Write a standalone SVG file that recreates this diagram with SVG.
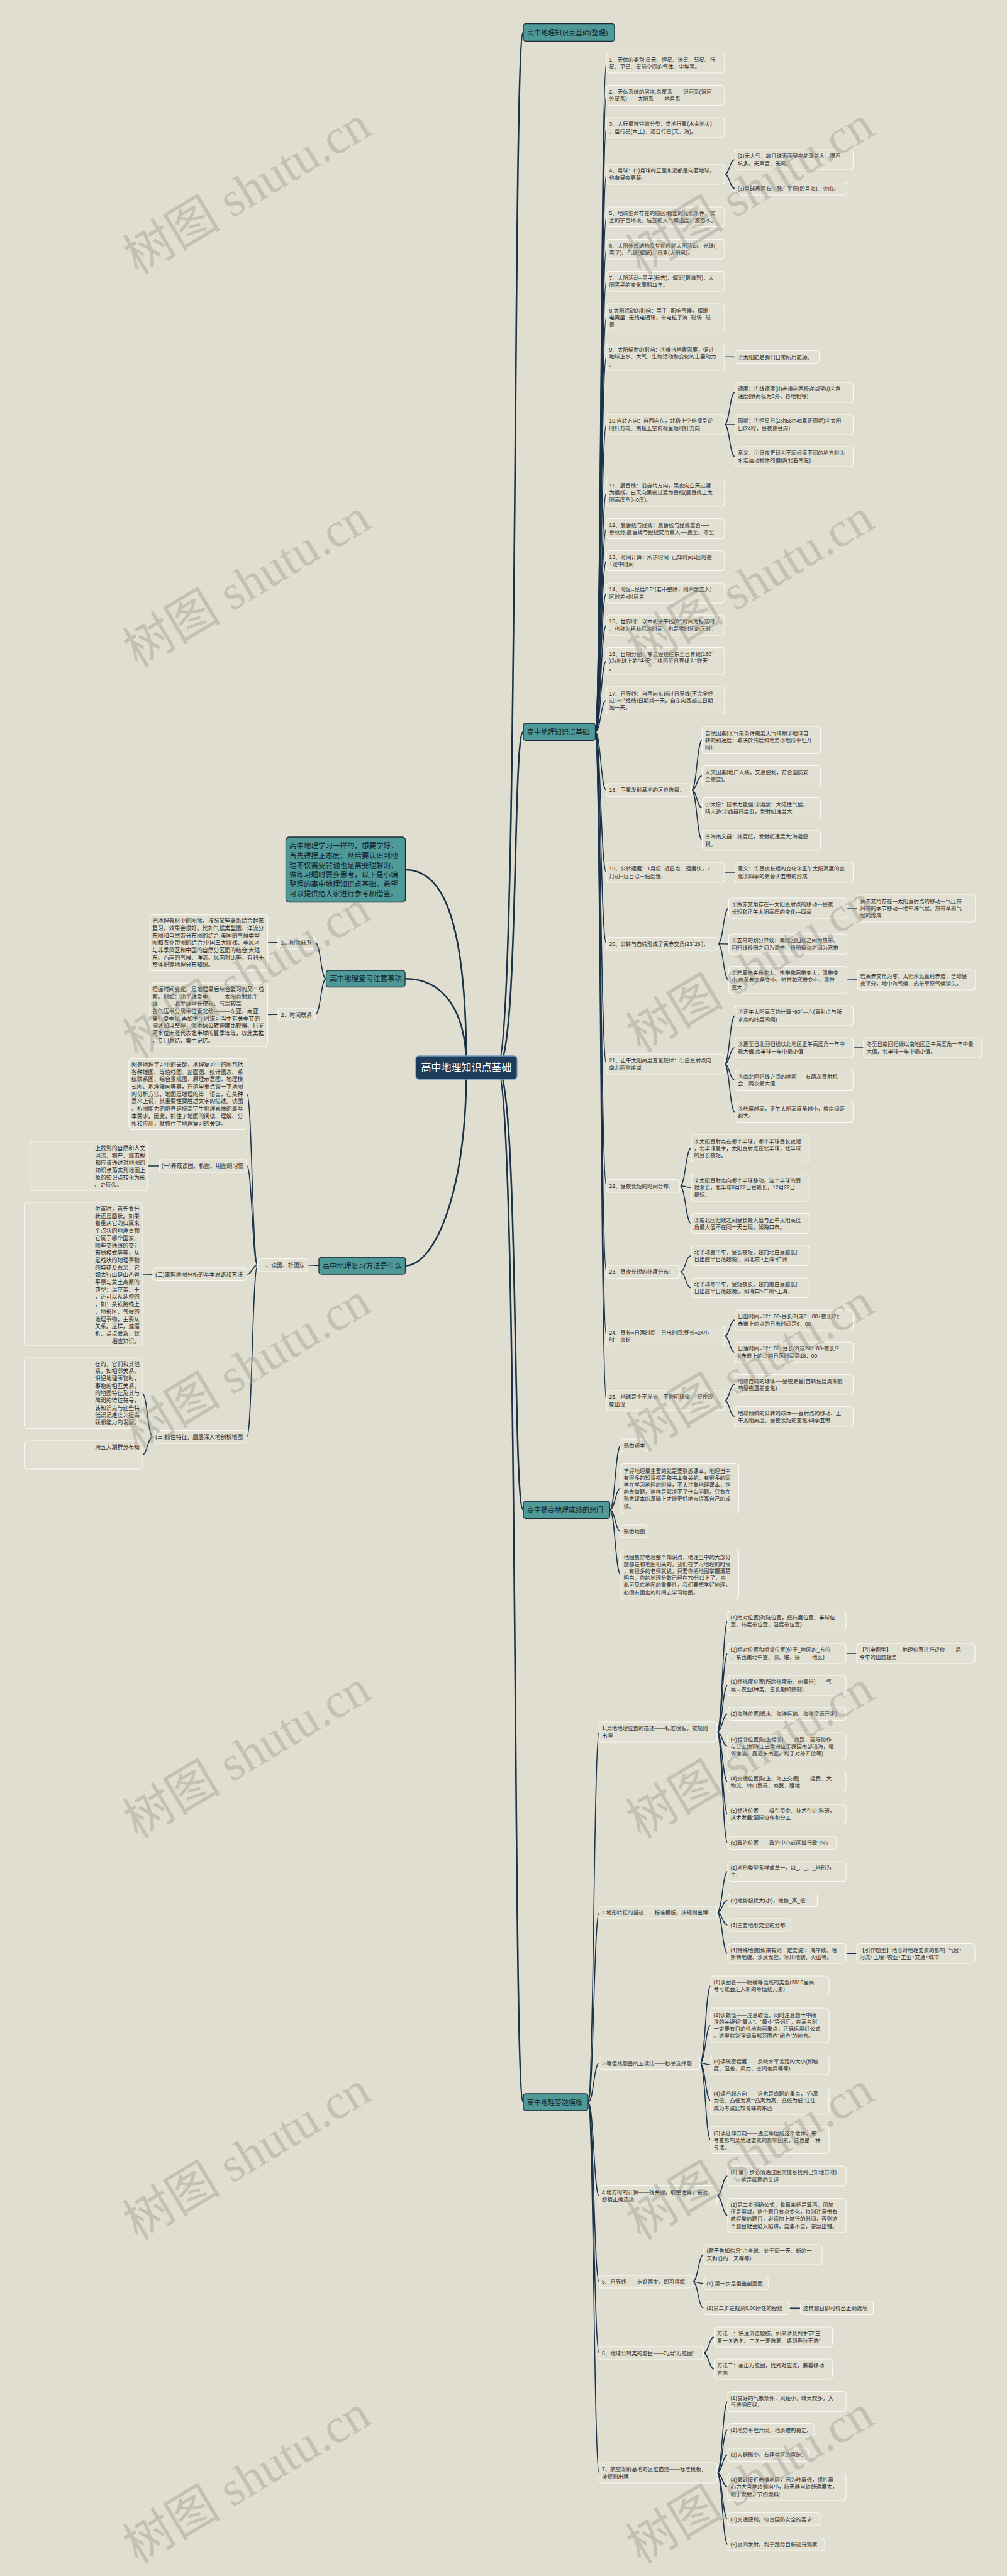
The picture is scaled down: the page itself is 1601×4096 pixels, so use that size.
<svg xmlns="http://www.w3.org/2000/svg" width="1601" height="4096" viewBox="0 0 1601 4096">
<style>
.n rect{fill:#e1e0d3;stroke:#f9f9f4;stroke-width:1.2}
.n text{font-family:"Liberation Sans","Noto Sans CJK SC",sans-serif;font-size:8.5px;fill:#2a2a2a}
.l text{font-size:8.9px}
.b rect{fill:#4f9a99;stroke:#1d2b36;stroke-width:1.3}
.b text{font-size:11px;fill:#14212b}
.bl text{font-size:11.5px}
.root rect{fill:#1d3c5a;stroke:#6c9cc0;stroke-width:1.3}
.root text{fill:#ffffff;font-size:16px}
.c path{fill:none;stroke:#1b324a;stroke-width:1.5}
.c path.t{stroke-width:2.6}
.wm{font-family:"Liberation Serif","Noto Sans CJK SC",serif;font-size:78px;fill:#9a9a8e;opacity:.42}
</style>
<rect x="0" y="0" width="1601" height="4096" fill="#dfded0"/>
<g id="connectors" class="c">
<path class="t" d="M790 1697.5C826 1697.5 814 51.5 832 51.5"/>
<path class="t" d="M790 1697.5C826 1697.5 814 1163.75 832 1163.75"/>
<path class="t" d="M790 1697.5C826 1697.5 814 2400.75 832 2400.75"/>
<path class="t" d="M790 1697.5C826 1697.5 814 3342.5 832 3342.5"/>
<path class="t" d="M644.6 1383C700 1383 741.5 1450 741.5 1697.5"/>
<path class="t" d="M644 1556.25C700 1556.25 741.5 1600 741.5 1697.5"/>
<path class="t" d="M644.5 2012.5C690 2012.5 741.5 1900 741.5 1697.5"/>
<path d="M946.5 1163.75C955 1163.75 955 100.25 964 100.25"/>
<path d="M946.5 1163.75C955 1163.75 955 151.5 964 151.5"/>
<path d="M946.5 1163.75C955 1163.75 955 203 964 203"/>
<path d="M946.5 1163.75C955 1163.75 955 277 964 277"/>
<path d="M946.5 1163.75C955 1163.75 955 344.75 964 344.75"/>
<path d="M946.5 1163.75C955 1163.75 955 396.25 964 396.25"/>
<path d="M946.5 1163.75C955 1163.75 955 447.25 964 447.25"/>
<path d="M946.5 1163.75C955 1163.75 955 504.75 964 504.75"/>
<path d="M946.5 1163.75C955 1163.75 955 567.25 964 567.25"/>
<path d="M946.5 1163.75C955 1163.75 955 675 964 675"/>
<path d="M946.5 1163.75C955 1163.75 955 783.25 964 783.25"/>
<path d="M946.5 1163.75C955 1163.75 955 840.5 964 840.5"/>
<path d="M946.5 1163.75C955 1163.75 955 891.5 964 891.5"/>
<path d="M946.5 1163.75C955 1163.75 955 943 964 943"/>
<path d="M946.5 1163.75C955 1163.75 955 994 964 994"/>
<path d="M946.5 1163.75C955 1163.75 955 1051.25 964 1051.25"/>
<path d="M946.5 1163.75C955 1163.75 955 1113.75 964 1113.75"/>
<path d="M946.5 1163.75C955 1163.75 955 1256.25 964 1256.25"/>
<path d="M946.5 1163.75C955 1163.75 955 1387 964 1387"/>
<path d="M946.5 1163.75C955 1163.75 955 1500.75 964 1500.75"/>
<path d="M946.5 1163.75C955 1163.75 955 1692 964 1692"/>
<path d="M946.5 1163.75C955 1163.75 955 1885.75 964 1885.75"/>
<path d="M946.5 1163.75C955 1163.75 955 2022.25 964 2022.25"/>
<path d="M946.5 1163.75C955 1163.75 955 2124.5 964 2124.5"/>
<path d="M946.5 1163.75C955 1163.75 955 2227 964 2227"/>
<path d="M1152 277C1160 277 1160 254 1168.5 254"/>
<path d="M1152 277C1160 277 1160 299.75 1168.5 299.75"/>
<path d="M1152 567.25C1160 567.25 1160 567.5 1168.5 567.5"/>
<path d="M1152 675C1160 675 1160 624 1168.5 624"/>
<path d="M1152 675C1160 675 1160 675 1168.5 675"/>
<path d="M1152 675C1160 675 1160 726 1168.5 726"/>
<path d="M1099.5 1256.25C1108 1256.25 1108 1176.75 1116.5 1176.75"/>
<path d="M1099.5 1256.25C1108 1256.25 1108 1233.5 1116.5 1233.5"/>
<path d="M1099.5 1256.25C1108 1256.25 1108 1284.5 1116.5 1284.5"/>
<path d="M1099.5 1256.25C1108 1256.25 1108 1336 1116.5 1336"/>
<path d="M1152 1387C1160 1387 1160 1387 1168.5 1387"/>
<path d="M1141.5 1500.75C1150 1500.75 1150 1444 1158.5 1444"/>
<path d="M1141.5 1500.75C1150 1500.75 1150 1501 1158.5 1501"/>
<path d="M1141.5 1500.75C1150 1500.75 1150 1558.25 1158.5 1558.25"/>
<path d="M1346.5 1444C1355 1444 1355 1444 1363 1444"/>
<path d="M1346.5 1558.25C1355 1558.25 1355 1558 1363 1558"/>
<path d="M1152 1692C1160 1692 1160 1615 1168.5 1615"/>
<path d="M1152 1692C1160 1692 1160 1666 1168.5 1666"/>
<path d="M1152 1692C1160 1692 1160 1717.5 1168.5 1717.5"/>
<path d="M1152 1692C1160 1692 1160 1768.5 1168.5 1768.5"/>
<path d="M1356.5 1666C1365 1666 1365 1666 1373 1666"/>
<path d="M1081 1885.75C1090 1885.75 1090 1825.75 1099 1825.75"/>
<path d="M1081 1885.75C1090 1885.75 1090 1888.25 1099 1888.25"/>
<path d="M1081 1885.75C1090 1885.75 1090 1945.5 1099 1945.5"/>
<path d="M1081 2022.25C1090 2022.25 1090 1996.75 1099 1996.75"/>
<path d="M1081 2022.25C1090 2022.25 1090 2047.75 1099 2047.75"/>
<path d="M1152 2124.5C1160 2124.5 1160 2099 1168.5 2099"/>
<path d="M1152 2124.5C1160 2124.5 1160 2150 1168.5 2150"/>
<path d="M1152 2227C1160 2227 1160 2201.25 1168.5 2201.25"/>
<path d="M1152 2227C1160 2227 1160 2252.25 1168.5 2252.25"/>
<path d="M969.5 2400.75C978 2400.75 978 2298.25 987 2298.25"/>
<path d="M969.5 2400.75C978 2400.75 978 2366.5 987 2366.5"/>
<path d="M969.5 2400.75C978 2400.75 978 2435 987 2435"/>
<path d="M969.5 2400.75C978 2400.75 978 2503.5 987 2503.5"/>
<path d="M935 3342.5C944 3342.5 944 2754 952.5 2754"/>
<path d="M935 3342.5C944 3342.5 944 3041 952.5 3041"/>
<path d="M935 3342.5C944 3342.5 944 3280.5 952.5 3280.5"/>
<path d="M935 3342.5C944 3342.5 944 3491.5 952.5 3491.5"/>
<path d="M935 3342.5C944 3342.5 944 3628 952.5 3628"/>
<path d="M935 3342.5C944 3342.5 944 3741.5 952.5 3741.5"/>
<path d="M935 3342.5C944 3342.5 944 3932 952.5 3932"/>
<path d="M1140 2754C1148.5 2754 1148.5 2577.5 1157 2577.5"/>
<path d="M1140 2754C1148.5 2754 1148.5 2629 1157 2629"/>
<path d="M1140 2754C1148.5 2754 1148.5 2680 1157 2680"/>
<path d="M1140 2754C1148.5 2754 1148.5 2725.25 1157 2725.25"/>
<path d="M1140 2754C1148.5 2754 1148.5 2776.75 1157 2776.75"/>
<path d="M1140 2754C1148.5 2754 1148.5 2833.5 1157 2833.5"/>
<path d="M1140 2754C1148.5 2754 1148.5 2884.75 1157 2884.75"/>
<path d="M1140 2754C1148.5 2754 1148.5 2930.25 1157 2930.25"/>
<path d="M1345 2629C1353.5 2629 1353.5 2629 1362 2629"/>
<path d="M1140 3041C1148.5 3041 1148.5 2975.75 1157 2975.75"/>
<path d="M1140 3041C1148.5 3041 1148.5 3021.5 1157 3021.5"/>
<path d="M1140 3041C1148.5 3041 1148.5 3061 1157 3061"/>
<path d="M1140 3041C1148.5 3041 1148.5 3106.25 1157 3106.25"/>
<path d="M1345 3106.25C1353.5 3106.25 1353.5 3106.25 1362 3106.25"/>
<path d="M1113 3280.5C1121.5 3280.5 1121.5 3157.75 1130 3157.75"/>
<path d="M1113 3280.5C1121.5 3280.5 1121.5 3220.5 1130 3220.5"/>
<path d="M1113 3280.5C1121.5 3280.5 1121.5 3283.25 1130 3283.25"/>
<path d="M1113 3280.5C1121.5 3280.5 1121.5 3340.25 1130 3340.25"/>
<path d="M1113 3280.5C1121.5 3280.5 1121.5 3402.75 1130 3402.75"/>
<path d="M1140 3491.5C1148.5 3491.5 1148.5 3460 1157 3460"/>
<path d="M1140 3491.5C1148.5 3491.5 1148.5 3522.75 1157 3522.75"/>
<path d="M1101.5 3628C1110 3628 1110 3585 1119 3585"/>
<path d="M1101.5 3628C1110 3628 1110 3630.75 1119 3630.75"/>
<path d="M1101.5 3628C1110 3628 1110 3670.25 1119 3670.25"/>
<path d="M1255 3670.25C1264 3670.25 1264 3670.25 1272.5 3670.25"/>
<path d="M1118.5 3741.5C1127 3741.5 1127 3716 1135.5 3716"/>
<path d="M1118.5 3741.5C1127 3741.5 1127 3767 1135.5 3767"/>
<path d="M1140 3932C1148.5 3932 1148.5 3818.5 1157 3818.5"/>
<path d="M1140 3932C1148.5 3932 1148.5 3863.75 1157 3863.75"/>
<path d="M1140 3932C1148.5 3932 1148.5 3903.25 1157 3903.25"/>
<path d="M1140 3932C1148.5 3932 1148.5 3954.25 1157 3954.25"/>
<path d="M1140 3932C1148.5 3932 1148.5 4005.75 1157 4005.75"/>
<path d="M1140 3932C1148.5 3932 1148.5 4045.75 1157 4045.75"/>
<path d="M518.5 1556.25C510 1556.25 510 1498.75 501 1498.75"/>
<path d="M518.5 1556.25C510 1556.25 510 1613.25 501 1613.25"/>
<path d="M442 1498.75C434 1498.75 434 1499 425.5 1499"/>
<path d="M442 1613.25C434 1613.25 434 1613.5 425.5 1613.5"/>
<path d="M507 2012.5C498 2012.5 498 2011.75 489.5 2011.75"/>
<path d="M409.5 2011.75C401 2011.75 401 1739.5 392.5 1739.5"/>
<path d="M409.5 2011.75C401 2011.75 401 1854 392.5 1854"/>
<path d="M409.5 2011.75C401 2011.75 401 2026.25 392.5 2026.25"/>
<path d="M409.5 2011.75C401 2011.75 401 2284.75 392.5 2284.75"/>
<path d="M253 1854C244 1854 244 1854 235 1854"/>
<path d="M243 2026.25C234.5 2026.25 234.5 2026 226 2026"/>
<path d="M243 2284.75C234.5 2284.75 234.5 2215.25 226 2215.25"/>
<path d="M243 2284.75C234.5 2284.75 234.5 2313.5 226 2313.5"/>
</g>
<g id="root" class="n root"><rect x="661" y="1679" width="161" height="37" rx="5"/><text x="741.5" y="1703.3" text-anchor="middle">高中地理知识点基础</text></g>
<g id="b1" class="n b"><rect x="832" y="37.5" width="145" height="28" rx="4"/><text x="838" y="55.6">高中地理知识点基础(整理)</text></g>
<g id="b2" class="n b"><rect x="832" y="1150" width="114.5" height="27.5" rx="4"/><text x="838" y="1167.9">高中地理知识点基础</text></g>
<g id="b3" class="n b"><rect x="832" y="2387" width="137.5" height="27.5" rx="4"/><text x="838" y="2404.9">高中提高地理成绩的窍门</text></g>
<g id="b4" class="n b"><rect x="832" y="3329" width="103" height="27" rx="4"/><text x="838" y="3346.6">高中地理答题模板</text></g>
<g id="bl1" class="n b bl"><rect x="454.5" y="1331" width="190" height="103.5" rx="5"/><text x="460" y="1349.3">高中地理学习一样的，想要学好，<tspan x="460" y="1364.5">首先得摆正态度，然后要认识到地</tspan><tspan x="460" y="1379.7">理不仅需要背诵也是需要理解的，</tspan><tspan x="460" y="1394.9">做练习题时要多思考，以下是小编</tspan><tspan x="460" y="1410.1">整理的高中地理知识点基础，希望</tspan><tspan x="460" y="1425.3">可以提供给大家进行参考和借鉴。</tspan></text></g>
<g id="bl2" class="n b bl"><rect x="518.5" y="1543" width="125.5" height="26.5" rx="4"/><text x="524" y="1560.4">高中地理复习注意事项</text></g>
<g id="bl3" class="n b bl"><rect x="507" y="1999" width="137.5" height="27" rx="4"/><text x="512.5" y="2016.6">高中地理复习方法是什么</text></g>
<g id="n1" class="n"><rect x="964" y="84.5" width="188" height="31.5" rx="5"/><text x="968.5" y="97.7">1、天体的类别:星云、恒星、流星、彗星、行<tspan x="968.5" y="108.9">星、卫星、星际空间的气体、尘埃等。</tspan></text></g>
<g id="n2" class="n"><rect x="964" y="135.5" width="188" height="32" rx="5"/><text x="968.5" y="148.9">2、天体系统的层次:总星系——银河系(银河<tspan x="968.5" y="160.1">外星系)——太阳系——地月系</tspan></text></g>
<g id="n3" class="n"><rect x="964" y="187" width="188" height="32" rx="5"/><text x="968.5" y="200.4">3、大行星按特徵分类：类地行星(水金地火)<tspan x="968.5" y="211.6">、巨行星(木土)、远日行星(天、海)。</tspan></text></g>
<g id="n4" class="n"><rect x="964" y="261" width="188" height="32" rx="5"/><text x="968.5" y="274.4">4、月球：(1)月球的正面永远都是向著地球，<tspan x="968.5" y="285.6">也有昼夜更替。</tspan></text></g>
<g id="n4a" class="n"><rect x="1168.5" y="238" width="188" height="32" rx="5"/><text x="1173" y="251.4">(2)无大气，故月球表面昼夜的温差大，陨石<tspan x="1173" y="262.6">坑多，无声音、无风，</tspan></text></g>
<g id="n4b" class="n"><rect x="1168.5" y="289.5" width="178" height="20.5" rx="5"/><text x="1173" y="302.8">(3)月球表面有山脉、平原(即月海)、火山。</text></g>
<g id="n5" class="n"><rect x="964" y="329" width="188" height="31.5" rx="5"/><text x="968.5" y="342.2">5、地球生命存在的原因:稳定的光照条件、安<tspan x="968.5" y="353.4">全的宇宙环境、适宜的大气和温度、液态水。</tspan></text></g>
<g id="n6" class="n"><rect x="964" y="380.5" width="188" height="31.5" rx="5"/><text x="968.5" y="393.6">6、太阳外部结构及其相应的太阳活动：光球(<tspan x="968.5" y="404.8">黑子)、色球(耀斑)、日冕(太阳风)。</tspan></text></g>
<g id="n7" class="n"><rect x="964" y="431.5" width="188" height="31.5" rx="5"/><text x="968.5" y="444.6">7、太阳活动--黑子(标志)、耀斑(最激烈)，太<tspan x="968.5" y="455.8">阳黑子的变化周期11年。</tspan></text></g>
<g id="n8" class="n"><rect x="964" y="483" width="188" height="43.5" rx="5"/><text x="968.5" y="496.6">8.太阳活动的影响：黑子--影响气候，耀斑--<tspan x="968.5" y="507.8">电离层--无线电通讯，带电粒子流--磁场--磁</tspan><tspan x="968.5" y="519">暴</tspan></text></g>
<g id="n9" class="n"><rect x="964" y="545.5" width="188" height="43.5" rx="5"/><text x="968.5" y="559.1">9、太阳辐射的影响：①维持地表温度，促进<tspan x="968.5" y="570.3">地球上水、大气、生物活动和变化的主要动力</tspan><tspan x="968.5" y="581.5">。</tspan></text></g>
<g id="n9a" class="n"><rect x="1168.5" y="557.5" width="134" height="20" rx="5"/><text x="1173" y="570.5">②太阳能是我们日常所用能源。</text></g>
<g id="n10" class="n"><rect x="964" y="659" width="188" height="32" rx="5"/><text x="968.5" y="672.4">10.自转方向：自西向东，北极上空俯视呈逆<tspan x="968.5" y="683.6">时针方向、南极上空俯视呈顺时针方向</tspan></text></g>
<g id="n10a" class="n"><rect x="1168.5" y="608" width="188" height="32" rx="5"/><text x="1173" y="621.4">速度：①线速度(由赤道向两极递减至0)②角<tspan x="1173" y="632.6">速度(除两极为0外，各地相等)</tspan></text></g>
<g id="n10b" class="n"><rect x="1168.5" y="659" width="188" height="32" rx="5"/><text x="1173" y="672.4">周期：①恒星日(23h56m4s真正周期)②太阳<tspan x="1173" y="683.6">日(24时，昼夜更替周)</tspan></text></g>
<g id="n10c" class="n"><rect x="1168.5" y="710" width="188" height="32" rx="5"/><text x="1173" y="723.4">意义：①昼夜更替②不同经度不同的地方时③<tspan x="1173" y="734.6">水准运动物体的偏移(北右南左)</tspan></text></g>
<g id="n11" class="n"><rect x="964" y="761.5" width="188" height="43.5" rx="5"/><text x="968.5" y="775.1">11、晨昏线：沿自转方向，黑夜向白天过渡<tspan x="968.5" y="786.3">为晨线，白天向黑夜过渡为昏线(晨昏线上太</tspan><tspan x="968.5" y="797.5">阳高度角为0度)。</tspan></text></g>
<g id="n12" class="n"><rect x="964" y="824.5" width="188" height="32" rx="5"/><text x="968.5" y="837.9">12、晨昏线与经线：晨昏线与经线重合-----<tspan x="968.5" y="849.1">春秋分;晨昏线与经线交角最大----夏至、冬至</tspan></text></g>
<g id="n13" class="n"><rect x="964" y="875.5" width="188" height="32" rx="5"/><text x="968.5" y="888.9">13、时间计算：所求时间=已知时间±区时差<tspan x="968.5" y="900.1">+途中时间</tspan></text></g>
<g id="n14" class="n"><rect x="964" y="927" width="188" height="32" rx="5"/><text x="968.5" y="940.4">14、时区=经度/15°(若不整除，则四舍五入)<tspan x="968.5" y="951.6">区时差=时区差</tspan></text></g>
<g id="n15" class="n"><rect x="964" y="978" width="188" height="32" rx="5"/><text x="968.5" y="991.4">15、世界时：以本初子午线(0°)时间为标准时<tspan x="968.5" y="1002.6">，也称为格林尼治时间，也是零时区的区时。</tspan></text></g>
<g id="n16" class="n"><rect x="964" y="1029.5" width="188" height="43.5" rx="5"/><text x="968.5" y="1043.1">16、日期分割：零点经线往东至日界线(180°<tspan x="968.5" y="1054.3">)为地球上的"今天"，往西至日界线为"昨天"</tspan><tspan x="968.5" y="1065.5">。</tspan></text></g>
<g id="n17" class="n"><rect x="964" y="1092" width="188" height="43.5" rx="5"/><text x="968.5" y="1105.6">17、日界线：自西向东越过日界线(不完全经<tspan x="968.5" y="1116.8">过180°经线)日期减一天，自东向西越过日期</tspan><tspan x="968.5" y="1128">加一天。</tspan></text></g>
<g id="n18" class="n"><rect x="964" y="1246" width="135.5" height="20.5" rx="5"/><text x="968.5" y="1259.3">18、卫星发射基地的区位选择：</text></g>
<g id="n18a" class="n"><rect x="1116.5" y="1155" width="188" height="43.5" rx="5"/><text x="1121" y="1168.6">自然因素(①气象条件需要天气晴朗②地球自<tspan x="1121" y="1179.8">转的初速度：取决於纬度和地势③地形平坦开</tspan><tspan x="1121" y="1191">阔);</tspan></text></g>
<g id="n18b" class="n"><rect x="1116.5" y="1217.5" width="188" height="32" rx="5"/><text x="1121" y="1230.9">人文因素(地广人稀，交通便利，符合国防安<tspan x="1121" y="1242.1">全需要)。</tspan></text></g>
<g id="n18c" class="n"><rect x="1116.5" y="1268.5" width="188" height="32" rx="5"/><text x="1121" y="1281.9">①太原：技术力量强;②酒泉：大陆性气候，<tspan x="1121" y="1293.1">晴天多;③西昌纬度低，发射初速度大;</tspan></text></g>
<g id="n18d" class="n"><rect x="1116.5" y="1320" width="188" height="32" rx="5"/><text x="1121" y="1333.4">④海南文昌：纬度低，发射初速度大;海运便<tspan x="1121" y="1344.6">利。</tspan></text></g>
<g id="n19" class="n"><rect x="964" y="1371" width="188" height="32" rx="5"/><text x="968.5" y="1384.4">19、公转速度：1月初--近日点—速度快，7<tspan x="968.5" y="1395.6">月初--远日点—速度慢;</tspan></text></g>
<g id="n19a" class="n"><rect x="1168.5" y="1371" width="188" height="32" rx="5"/><text x="1173" y="1384.4">意义：①昼夜长短的变化②正午太阳高度的变<tspan x="1173" y="1395.6">化③四季的更替④五带的形成</tspan></text></g>
<g id="n20" class="n"><rect x="964" y="1490.5" width="177.5" height="20.5" rx="5"/><text x="968.5" y="1503.8">20、公转与自转形成了黄赤交角(23°26′)：</text></g>
<g id="n20a" class="n"><rect x="1158.5" y="1428" width="188" height="32" rx="5"/><text x="1163" y="1441.4">①黄赤交角存在---太阳直射点的移动---昼夜<tspan x="1163" y="1452.6">长短和正午太阳高度的变化---四季</tspan></text></g>
<g id="n20a1" class="n"><rect x="1363" y="1422" width="188" height="44" rx="5"/><text x="1367.5" y="1435.8">黄赤交角存在---太阳直射点的移动—气压带<tspan x="1367.5" y="1447">风带的季节移动—地中海气候、热带草原气</tspan><tspan x="1367.5" y="1458.2">候的形成</tspan></text></g>
<g id="n20b" class="n"><rect x="1158.5" y="1485" width="188" height="32" rx="5"/><text x="1163" y="1498.4">②五带的划分界线：南北回归线之间为热带、<tspan x="1163" y="1509.6">回归线极圈之间为温带、极圈极点之间为寒带</tspan></text></g>
<g id="n20c" class="n"><rect x="1158.5" y="1536.5" width="188" height="43.5" rx="5"/><text x="1163" y="1550.1">③若黄赤夹角变大，热带和寒带变大，温带变<tspan x="1163" y="1561.3">小;若黄赤夹角变小，热带和寒带变小，温带</tspan><tspan x="1163" y="1572.5">变大</tspan></text></g>
<g id="n20c1" class="n"><rect x="1363" y="1542" width="188" height="32" rx="5"/><text x="1367.5" y="1555.4">若黄赤交角为零，太阳永远直射赤道，全球昼<tspan x="1367.5" y="1566.6">夜平分，地中海气候、热带草原气候消失。</tspan></text></g>
<g id="n21" class="n"><rect x="964" y="1676" width="188" height="32" rx="5"/><text x="968.5" y="1689.4">21、正午太阳高度变化规律：①由直射点向<tspan x="968.5" y="1700.6">南北两侧递减</tspan></text></g>
<g id="n21a" class="n"><rect x="1168.5" y="1599" width="188" height="32" rx="5"/><text x="1173" y="1612.4">②正午太阳高度的计算=90°—△(直射点与所<tspan x="1173" y="1623.6">求点的纬度间隔)</tspan></text></g>
<g id="n21b" class="n"><rect x="1168.5" y="1650" width="188" height="32" rx="5"/><text x="1173" y="1663.4">③夏至日北回归线以北地区正午高度角一年中<tspan x="1173" y="1674.6">最大值,南半球一年中最小值;</tspan></text></g>
<g id="n21b1" class="n"><rect x="1373" y="1650" width="188" height="32" rx="5"/><text x="1377.5" y="1663.4">冬至日南回归线以南地区正午高度角一年中最<tspan x="1377.5" y="1674.6">大值，北半球一年中最小值。</tspan></text></g>
<g id="n21c" class="n"><rect x="1168.5" y="1701.5" width="188" height="32" rx="5"/><text x="1173" y="1714.9">④南北回归线之间的地区-----有两次直射机<tspan x="1173" y="1726.1">会---两次最大值</tspan></text></g>
<g id="n21d" class="n"><rect x="1168.5" y="1752.5" width="188" height="32" rx="5"/><text x="1173" y="1765.9">⑤纬度越高，正午太阳高度角越小，楼房间距<tspan x="1173" y="1777.1">越大。</tspan></text></g>
<g id="n22" class="n"><rect x="964" y="1875.5" width="117" height="20.5" rx="5"/><text x="968.5" y="1888.8">22、昼夜长短的时间分布：</text></g>
<g id="n22a" class="n"><rect x="1099" y="1804" width="187.5" height="43.5" rx="5"/><text x="1103.5" y="1817.6">①太阳直射点在哪个半球，哪个半球昼长夜短<tspan x="1103.5" y="1828.8">，北半球夏季，太阳直射点在北半球，北半球</tspan><tspan x="1103.5" y="1840">的昼长夜短。</tspan></text></g>
<g id="n22b" class="n"><rect x="1099" y="1866.5" width="187.5" height="43.5" rx="5"/><text x="1103.5" y="1880.1">②太阳直射点向哪个半球移动，这个半球的昼<tspan x="1103.5" y="1891.3">就渐长，北半球6月22日昼最长，12月22日</tspan><tspan x="1103.5" y="1902.5">最短。</tspan></text></g>
<g id="n22c" class="n"><rect x="1099" y="1929.5" width="187.5" height="32" rx="5"/><text x="1103.5" y="1942.9">③南北回归线之间昼长最大值与正午太阳高度<tspan x="1103.5" y="1954.1">角最大值不在同一天出现，如海口市。</tspan></text></g>
<g id="n23" class="n"><rect x="964" y="2012" width="117" height="20.5" rx="5"/><text x="968.5" y="2025.3">23、昼夜长短的纬度分布：</text></g>
<g id="n23a" class="n"><rect x="1099" y="1981" width="187.5" height="31.5" rx="5"/><text x="1103.5" y="1994.2">北半球夏半年，昼长夜短，越向北白昼越长(<tspan x="1103.5" y="2005.4">日出越早日落越晚)，如北京&gt;上海&gt;广州</tspan></text></g>
<g id="n23b" class="n"><rect x="1099" y="2032" width="187.5" height="31.5" rx="5"/><text x="1103.5" y="2045.2">北半球冬半年，昼短夜长，越向南白昼越长(<tspan x="1103.5" y="2056.4">日出越早日落越晚)。如海口&gt;广州&gt;上海，</tspan></text></g>
<g id="n24" class="n"><rect x="964" y="2108.5" width="188" height="32" rx="5"/><text x="968.5" y="2121.9">24、昼长=日落时间—日出时间;昼长=24小<tspan x="968.5" y="2133.1">时—夜长</tspan></text></g>
<g id="n24a" class="n"><rect x="1168.5" y="2083" width="188" height="32" rx="5"/><text x="1173" y="2096.4">日出时间=12：00-昼长/2(或0：00+夜长/2);<tspan x="1173" y="2107.6">赤道上的点的日出时间是6：00</tspan></text></g>
<g id="n24b" class="n"><rect x="1168.5" y="2134" width="188" height="32" rx="5"/><text x="1173" y="2147.4">日落时间=12：00+昼长/2(或24：00-夜长/2<tspan x="1173" y="2158.6">);赤道上的点的日落时间是18：00</tspan></text></g>
<g id="n25" class="n"><rect x="964" y="2211" width="188" height="32" rx="5"/><text x="968.5" y="2224.4">25、地球是个不发光、不透明球体—-昼夜现<tspan x="968.5" y="2235.6">象出现</tspan></text></g>
<g id="n25a" class="n"><rect x="1168.5" y="2185.5" width="188" height="31.5" rx="5"/><text x="1173" y="2198.6">地球自转的球体—-昼夜更替(自转速度周期影<tspan x="1173" y="2209.8">响昼夜温差变化)</tspan></text></g>
<g id="n25b" class="n"><rect x="1168.5" y="2236.5" width="188" height="31.5" rx="5"/><text x="1173" y="2249.6">地球倾斜的公转的球体—-直射点的移动、正<tspan x="1173" y="2260.8">午太阳高度、昼夜长短的变化-四季五带</tspan></text></g>
<g id="m1" class="n"><rect x="987" y="2288" width="43.5" height="20.5" rx="5"/><text x="991.5" y="2301.3">熟悉课本</text></g>
<g id="m2" class="n"><rect x="987" y="2327.5" width="187.5" height="78" rx="5"/><text x="991.5" y="2341.5">学好地理最主要的就是要熟悉课本，地理当中<tspan x="991.5" y="2352.7">有很多的知识都是和书本有关的，有很多的同</tspan><tspan x="991.5" y="2363.9">学在学习地理的时候，不太注重地理课本，指</tspan><tspan x="991.5" y="2375.1">向去做题，这样是解决不了什么问题，只有在</tspan><tspan x="991.5" y="2386.3">熟悉课本的基础上才能更好地去提高自己的成</tspan><tspan x="991.5" y="2397.5">绩。</tspan></text></g>
<g id="m3" class="n"><rect x="987" y="2425" width="43.5" height="20" rx="5"/><text x="991.5" y="2438">熟悉地图</text></g>
<g id="m4" class="n"><rect x="987" y="2464.5" width="187.5" height="78" rx="5"/><text x="991.5" y="2478.5">地图贯穿地理整个知识点，地理当中的大部分<tspan x="991.5" y="2489.7">题都是和地图相关的，我们在学习地理的时候</tspan><tspan x="991.5" y="2500.9">，有很多的老师就说，只要你把地图掌握清楚</tspan><tspan x="991.5" y="2512.1">明白，你的地理分数已经在70分以上了，由</tspan><tspan x="991.5" y="2523.3">此可见底地图的重要性，我们要想学好地理，</tspan><tspan x="991.5" y="2534.5">必须有固定的时间去学习地图。</tspan></text></g>
<g id="t1" class="n"><rect x="952.5" y="2738" width="187.5" height="32" rx="5"/><text x="957" y="2751.4">1.某地地理位置的描述——标准模板，按规则<tspan x="957" y="2762.6">出牌</tspan></text></g>
<g id="t1a" class="n"><rect x="1157" y="2561.5" width="188" height="32" rx="5"/><text x="1161.5" y="2574.9">(1)绝对位置(海陆位置，经纬度位置、半球位<tspan x="1161.5" y="2586.1">置、纬度带位置、温度带位置)</tspan></text></g>
<g id="t1b" class="n"><rect x="1157" y="2613" width="188" height="32" rx="5"/><text x="1161.5" y="2626.4">(2)相对位置和相邻位置(位于_地区的_方位<tspan x="1161.5" y="2637.6">，东西南北中靠、濒、临、接____地区)</tspan></text></g>
<g id="t1b1" class="n"><rect x="1362" y="2613" width="188" height="32" rx="5"/><text x="1366.5" y="2626.4">【引申题型】——地理位置进行评价——届<tspan x="1366.5" y="2637.6">今年的出题趋势</tspan></text></g>
<g id="t1c" class="n"><rect x="1157" y="2664" width="188" height="32" rx="5"/><text x="1161.5" y="2677.4">(1)经纬度位置(所跨纬度带、热量带)——气<tspan x="1161.5" y="2688.6">候→农业(种类、生长期和熟制)</tspan></text></g>
<g id="t1d" class="n"><rect x="1157" y="2715" width="188" height="20.5" rx="5"/><text x="1161.5" y="2728.3">(2)海陆位置(降水、海洋运输、海洋资源开发)</text></g>
<g id="t1e" class="n"><rect x="1157" y="2755" width="188" height="43.5" rx="5"/><text x="1161.5" y="2768.6">(3)相邻位置(陆上相邻)——商贸、国际协作<tspan x="1161.5" y="2779.8">与分工(如珠江三角洲位于我国南部沿海，毗</tspan><tspan x="1161.5" y="2791">邻港澳，靠近东南亚，利于对外开放等)</tspan></text></g>
<g id="t1f" class="n"><rect x="1157" y="2817.5" width="188" height="32" rx="5"/><text x="1161.5" y="2830.9">(4)交通位置(陆上、海上交通)——运费、大<tspan x="1161.5" y="2842.1">物流、转口贸易、商贸、腹地</tspan></text></g>
<g id="t1g" class="n"><rect x="1157" y="2869" width="188" height="31.5" rx="5"/><text x="1161.5" y="2882.2">(5)经济位置——吸引资金、技术引进;科研，<tspan x="1161.5" y="2893.4">技术发展;国际协作和分工</tspan></text></g>
<g id="t1h" class="n"><rect x="1157" y="2920" width="173" height="20.5" rx="5"/><text x="1161.5" y="2933.3">(6)政治位置——政治中心或区域行政中心</text></g>
<g id="t2" class="n"><rect x="952.5" y="3031" width="187.5" height="20" rx="5"/><text x="957" y="3044">2.地形特征的描述——标准模板，按规则出牌</text></g>
<g id="t2a" class="n"><rect x="1157" y="2960" width="188" height="31.5" rx="5"/><text x="1161.5" y="2973.2">(1)地形类型多样或单一，以_、_、_地形为<tspan x="1161.5" y="2984.4">主;</tspan></text></g>
<g id="t2b" class="n"><rect x="1157" y="3011.5" width="142.5" height="20" rx="5"/><text x="1161.5" y="3024.5">(2)地势起伏大(小)，地势_高_低;</text></g>
<g id="t2c" class="n"><rect x="1157" y="3051" width="100.5" height="20" rx="5"/><text x="1161.5" y="3064">(3)主要地形类型的分布</text></g>
<g id="t2d" class="n"><rect x="1157" y="3090.5" width="188" height="31.5" rx="5"/><text x="1161.5" y="3103.6">(4)特殊地貌(如果有则一定要说)：海岸线、喀<tspan x="1161.5" y="3114.8">斯特地貌、沙漠戈壁、冰川地貌、火山等。</tspan></text></g>
<g id="t2d1" class="n"><rect x="1362" y="3090.5" width="188" height="31.5" rx="5"/><text x="1366.5" y="3103.6">【引伸题型】地形对地理要素的影响=气候+<tspan x="1366.5" y="3114.8">河流+土壤+农业+工业+交通+城市</tspan></text></g>
<g id="t3" class="n"><rect x="952.5" y="3270.5" width="160.5" height="20" rx="5"/><text x="957" y="3283.5">3.等值线题目的五读法——秒杀选择题</text></g>
<g id="t3a" class="n"><rect x="1130" y="3142" width="188" height="31.5" rx="5"/><text x="1134.5" y="3155.2">(1)读图名——明确等值线的类型(2016届高<tspan x="1134.5" y="3166.4">考可能会汇入新的等值线元素)</tspan></text></g>
<g id="t3b" class="n"><rect x="1130" y="3193" width="188" height="55" rx="5"/><text x="1134.5" y="3206.7">(2)读数值——注意取值，同时注意题干中所<tspan x="1134.5" y="3217.9">注的关键词"最大"、"最小"等词汇，在高考时</tspan><tspan x="1134.5" y="3229.1">一定要有目的性地勾画重点，正确运用好公式</tspan><tspan x="1134.5" y="3240.3">。这里特别强调局部范围内"闭合"的地方。</tspan></text></g>
<g id="t3c" class="n"><rect x="1130" y="3267.5" width="188" height="31.5" rx="5"/><text x="1134.5" y="3280.6">(3)读疏密程度——反映水平差距的大小(如坡<tspan x="1134.5" y="3291.8">度、温差、风力、空间差异等等)</tspan></text></g>
<g id="t3d" class="n"><rect x="1130" y="3318.5" width="188" height="43.5" rx="5"/><text x="1134.5" y="3332.1">(4)读凸起方向——这也是命题的重点，"凸高<tspan x="1134.5" y="3343.3">为低、凸低为高""凸高为高、凸低为低"往往</tspan><tspan x="1134.5" y="3354.5">成为考试比较青睐的东西</tspan></text></g>
<g id="t3e" class="n"><rect x="1130" y="3381" width="188" height="43.5" rx="5"/><text x="1134.5" y="3394.6">(5)读延伸方向——通过等值线这个载体，来<tspan x="1134.5" y="3405.8">考查影响某地理要素的影响因素，这也是一种</tspan><tspan x="1134.5" y="3417">考法。</tspan></text></g>
<g id="t4" class="n"><rect x="952.5" y="3475.5" width="187.5" height="32" rx="5"/><text x="957" y="3488.9">4.地方时的计算——找关键，取整估算，接近<tspan x="957" y="3500.1">秒猜正确选项</tspan></text></g>
<g id="t4a" class="n"><rect x="1157" y="3444" width="188" height="32" rx="5"/><text x="1161.5" y="3457.4">(1) 第一步必须通过图文信息找到已知地方时)<tspan x="1161.5" y="3468.6">——这是解题的关键</tspan></text></g>
<g id="t4b" class="n"><rect x="1157" y="3495.5" width="188" height="54.5" rx="5"/><text x="1161.5" y="3509">(2)第二步明确公式，看算东还是算西，用加<tspan x="1161.5" y="3520.2">还是用减，这个题目有点变化，特别注意带有</tspan><tspan x="1161.5" y="3531.4">航程类的题目，必须加上航行的时间，否则这</tspan><tspan x="1161.5" y="3542.6">个题目就会陷入陷阱，要素不全，答案出错。</tspan></text></g>
<g id="t5" class="n"><rect x="952.5" y="3618" width="149" height="20" rx="5"/><text x="957" y="3631">5、日界线——走好两步，即可得解</text></g>
<g id="t5a" class="n"><rect x="1119" y="3569" width="188" height="32" rx="5"/><text x="1123.5" y="3582.4">(题干告知信息"占全球、处于同一天、新的一<tspan x="1123.5" y="3593.6">天和旧的一天等等)</tspan></text></g>
<g id="t5b" class="n"><rect x="1119" y="3620.5" width="103" height="20.5" rx="5"/><text x="1123.5" y="3633.8">(1) 第一步是画出剖面图</text></g>
<g id="t5c" class="n"><rect x="1119" y="3660" width="136" height="20.5" rx="5"/><text x="1123.5" y="3673.3">(2)第二步是找到0:00所在的经线</text></g>
<g id="t5c1" class="n"><rect x="1272.5" y="3660" width="116" height="20.5" rx="5"/><text x="1277" y="3673.3">这样题目即可得出正确选项</text></g>
<g id="t6" class="n"><rect x="952.5" y="3731" width="166" height="21" rx="5"/><text x="957" y="3744.5">6、地球公转类的题目——巧用"万能图"</text></g>
<g id="t6a" class="n"><rect x="1135.5" y="3700" width="188" height="32" rx="5"/><text x="1140" y="3713.4">方法一：快速浏览题肢，如果涉及到季节"三<tspan x="1140" y="3724.6">夏一冬选冬、三冬一夏选夏、遇到春秋不选"</tspan></text></g>
<g id="t6b" class="n"><rect x="1135.5" y="3751" width="188" height="32" rx="5"/><text x="1140" y="3764.4">方法二：画出万能图，找到对应点，兼看移动<tspan x="1140" y="3775.6">方向</tspan></text></g>
<g id="t7" class="n"><rect x="952.5" y="3916" width="187.5" height="32" rx="5"/><text x="957" y="3929.4">7、航空发射基地的区位描述——标准模板，<tspan x="957" y="3940.6">按规则出牌</tspan></text></g>
<g id="t7a" class="n"><rect x="1157" y="3802.5" width="188" height="32" rx="5"/><text x="1161.5" y="3815.9">(1)良好的气象条件，风速小，晴天较多，大<tspan x="1161.5" y="3827.1">气透明度好;</tspan></text></g>
<g id="t7b" class="n"><rect x="1157" y="3853.5" width="138" height="20.5" rx="5"/><text x="1161.5" y="3866.8">(2)地势平坦开阔，地质结构稳定;</text></g>
<g id="t7c" class="n"><rect x="1157" y="3893" width="129" height="20.5" rx="5"/><text x="1161.5" y="3906.3">(3)人烟稀少，有建禁区的可能;</text></g>
<g id="t7d" class="n"><rect x="1157" y="3932.5" width="188" height="43.5" rx="5"/><text x="1161.5" y="3946.1">(4)最好接近赤道地区，因为纬度低，惯性离<tspan x="1161.5" y="3957.3">心力大且地转偏向小，航天器自转线速度大，</tspan><tspan x="1161.5" y="3968.5">利于发射，节约燃料;</tspan></text></g>
<g id="t7e" class="n"><rect x="1157" y="3995.5" width="147" height="20.5" rx="5"/><text x="1161.5" y="4008.8">(5)交通便利，符合国防安全的要求;</text></g>
<g id="t7f" class="n"><rect x="1157" y="4035.5" width="154" height="20.5" rx="5"/><text x="1161.5" y="4048.8">(6)夜间发射，利于跟踪目标进行观察</text></g>
<g id="L1" class="n l"><rect x="442" y="1488.5" width="59" height="20.5" rx="5"/><text x="446.5" y="1502">1、图像联系</text></g>
<g id="L1t" class="n l"><rect x="238" y="1454.5" width="187.5" height="89" rx="5"/><text x="242" y="1467.1">把地理教材中的图像，按照某些联系结合起来<tspan x="242" y="1478.8">复习，效果会很好。比如气候类型图、洋流分</tspan><tspan x="242" y="1490.5">布图和自然带分布图的结合;美国的气候类型</tspan><tspan x="242" y="1502.2">图和农业带图的结合;中国三大阶梯、季风区</tspan><tspan x="242" y="1513.9">与非季风区和中国的自然分区图的结合;大陆</tspan><tspan x="242" y="1525.6">东、西岸的气候、洋流、风向对比等，有利于</tspan><tspan x="242" y="1537.3">整体把握地理分布知识。</tspan></text></g>
<g id="L2" class="n l"><rect x="442" y="1603" width="59" height="20.5" rx="5"/><text x="446.5" y="1616.5">2、时间联系</text></g>
<g id="L2t" class="n l"><rect x="238" y="1563" width="187.5" height="101" rx="5"/><text x="242" y="1575.8">把握时间变化，是地理最后综合复习的又一线<tspan x="242" y="1587.5">索。例如：北半球夏季———太阳直射北半</tspan><tspan x="242" y="1599.2">球———北半球昼长夜短、气温较高———</tspan><tspan x="242" y="1610.9">各气压带分风带位置北移———东亚、南亚</tspan><tspan x="242" y="1622.6">盛行夏季风;再如把平时练习当中有关季节的</tspan><tspan x="242" y="1634.3">描述加以整理，像地球公转速度比较慢、尼罗</tspan><tspan x="242" y="1646">河水位大涨代表北半球的夏季等等，以此类推</tspan><tspan x="242" y="1657.7">，专门总结，集中记忆。</tspan></text></g>
<g id="L3" class="n l"><rect x="409.5" y="2001.5" width="80" height="20.5" rx="5"/><text x="413.5" y="2015">一、读图、析图法</text></g>
<g id="L3t" class="n l"><rect x="205" y="1683.5" width="187.5" height="112" rx="5"/><text x="209" y="1695.9">图是地理学习中的关键，地理复习中的图包括<tspan x="209" y="1707.6">各种地图、等值线图、剖面图、统计图表、系</tspan><tspan x="209" y="1719.3">统联系图、综合景观图、原理示意图、地理模</tspan><tspan x="209" y="1731">式图、地理漫画等等，在这里重点谈一下地图</tspan><tspan x="209" y="1742.7">的分析方法。地图是地理的第一语言，在某种</tspan><tspan x="209" y="1754.4">意义上说，其重要性要胜过文字的描述。读图</tspan><tspan x="209" y="1766.1">、析图能力的培养是提高学生地理素质的最基</tspan><tspan x="209" y="1777.8">本要求。因此，抓住了地图的阅读、理解、分</tspan><tspan x="209" y="1789.5">析和应用，就抓住了地理复习的关键。</tspan></text></g>
<g id="L4" class="n l"><rect x="253" y="1844" width="139.5" height="20" rx="5"/><text x="257" y="1857.2">(一)养成读图、析图、用图的习惯</text></g>
<g id="L5" class="n l"><rect x="243" y="2016" width="149.5" height="20.5" rx="5"/><text x="247" y="2029.5">(二)掌握地图分析的基本思路和方法</text></g>
<g id="L6" class="n l"><rect x="243" y="2274.5" width="149.5" height="20.5" rx="5"/><text x="247" y="2288">(三)抓住特征，层层深入地剖析地图</text></g>
<g id="L4t" class="n l"><rect x="47.5" y="1815" width="187.5" height="78" rx="5"/><text x="231" y="1828.9" text-anchor="end">上找到的自然和人文<tspan x="231" y="1840.6">河流、物产、城市规</tspan><tspan x="231" y="1852.3">都应该通过对地图的</tspan><tspan x="231" y="1864">知识点落实到地图上</tspan><tspan x="231" y="1875.7">象的知识点转化为形</tspan><tspan x="150" y="1887.4" text-anchor="start">、更持久。</tspan></text></g>
<g id="L5t" class="n l"><rect x="38.5" y="1912" width="187.5" height="228" rx="5"/><text x="222" y="1925" text-anchor="end">位置时，首先要分<tspan x="222" y="1936.7">状还是面状。如果</tspan><tspan x="222" y="1948.4">着重从它的归属来</tspan><tspan x="222" y="1960.1">个点状的地理事物</tspan><tspan x="222" y="1971.8">它属于哪个国家、</tspan><tspan x="222" y="1983.5">哪些交通线的交汇</tspan><tspan x="222" y="1995.2">布局模式等等，从</tspan><tspan x="222" y="2006.9">是线状的地理事物</tspan><tspan x="222" y="2018.6">的特征及意义，它</tspan><tspan x="222" y="2030.3">如太行山是山西省</tspan><tspan x="222" y="2042">平原与黄土高原的</tspan><tspan x="222" y="2053.7">典型：温度带、干</tspan><tspan x="222" y="2065.4">，还可以从延伸的</tspan><tspan x="222" y="2077.1">，如：某铁路线上</tspan><tspan x="222" y="2088.8">、地形区、气候的</tspan><tspan x="222" y="2100.5">地理事物，主要从</tspan><tspan x="222" y="2112.2">关系。这样，遵循</tspan><tspan x="222" y="2123.9">析、点点联系，就</tspan><tspan x="222" y="2135.6">相应知识。</tspan></text></g>
<g id="L6t" class="n l"><rect x="38.5" y="2159" width="187.5" height="112.5" rx="5"/><text x="222" y="2171.5" text-anchor="end">在的，它们和其他<tspan x="222" y="2183.2">系，如相邻关系、</tspan><tspan x="222" y="2194.9">识记地理事物时，</tspan><tspan x="222" y="2206.6">事物的相互关系，</tspan><tspan x="222" y="2218.3">的地图特征及其与</tspan><tspan x="222" y="2230">简明的特征符号，</tspan><tspan x="222" y="2241.7">该知识点与这些特</tspan><tspan x="222" y="2253.4">低识记难度、提高</tspan><tspan x="222" y="2265.1">联想能力的发展。</tspan></text></g>
<g id="L6u" class="n l"><rect x="38.5" y="2291" width="187.5" height="45" rx="5"/><text x="222" y="2304.2" text-anchor="end">洲五大湖群分布知</text></g>
<g id="watermarks">
<text class="wm" transform="translate(406 325) rotate(-31)" text-anchor="middle">树图 shutu.cn</text>
<text class="wm" transform="translate(1206 325) rotate(-31)" text-anchor="middle">树图 shutu.cn</text>
<text class="wm" transform="translate(406 950) rotate(-31)" text-anchor="middle">树图 shutu.cn</text>
<text class="wm" transform="translate(1206 950) rotate(-31)" text-anchor="middle">树图 shutu.cn</text>
<text class="wm" transform="translate(406 1572) rotate(-31)" text-anchor="middle">树图 shutu.cn</text>
<text class="wm" transform="translate(1206 1562) rotate(-31)" text-anchor="middle">树图 shutu.cn</text>
<text class="wm" transform="translate(406 2196) rotate(-31)" text-anchor="middle">树图 shutu.cn</text>
<text class="wm" transform="translate(1206 2197) rotate(-31)" text-anchor="middle">树图 shutu.cn</text>
<text class="wm" transform="translate(406 2812) rotate(-31)" text-anchor="middle">树图 shutu.cn</text>
<text class="wm" transform="translate(1206 2812) rotate(-31)" text-anchor="middle">树图 shutu.cn</text>
<text class="wm" transform="translate(406 3450) rotate(-31)" text-anchor="middle">树图 shutu.cn</text>
<text class="wm" transform="translate(1206 3450) rotate(-31)" text-anchor="middle">树图 shutu.cn</text>
<text class="wm" transform="translate(406 3965) rotate(-31)" text-anchor="middle">树图 shutu.cn</text>
<text class="wm" transform="translate(1206 3965) rotate(-31)" text-anchor="middle">树图 shutu.cn</text>
</g>
</svg>
